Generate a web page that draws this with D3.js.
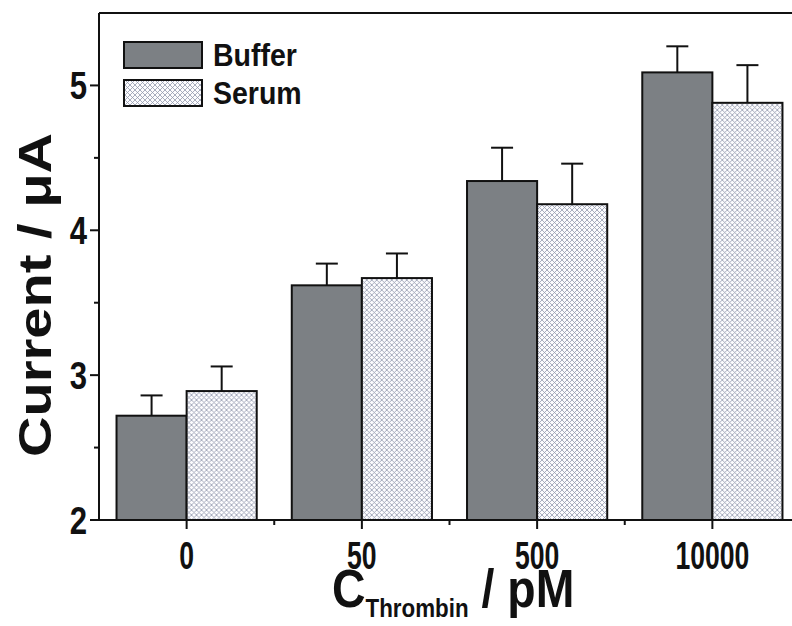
<!DOCTYPE html>
<html>
<head>
<meta charset="utf-8">
<script src="https://cdn.jsdelivr.net/npm/d3@7"></script>
<style>
  body { margin: 0; background: #fff; }
  svg { display: block; }
  text { font-family: "Liberation Sans", Arial, sans-serif; font-weight: bold; fill: #111; }
</style>
</head>
<body>
<div id="chart"></div>
<script>
// Data
const categories = ["0", "50", "500", "10000"];
const seriesNames = ["Buffer", "Serum"];
const bufferValues = [2.72, 3.62, 4.34, 5.09];
const bufferErrors = [0.14, 0.15, 0.23, 0.18];
const serumValues = [2.89, 3.67, 4.18, 4.88];
const serumErrors = [0.17, 0.17, 0.28, 0.26];
const yTicks = [2, 3, 4, 5];
const yMinorTicks = [2.5, 3.5, 4.5];

const width = 792;
const height = 626;
const margin = { top: 13, right: -8, bottom: 106, left: 99 };

const svg = d3.select("#chart")
  .append("svg")
  .attr("width", width)
  .attr("height", height)
  .attr("viewBox", [0, 0, width, height]);

// Cross-hatch pattern for serum bars
const defs = svg.append("defs");
const pat = defs.append("pattern")
  .attr("id", "hatch")
  .attr("patternUnits", "userSpaceOnUse")
  .attr("width", 5)
  .attr("height", 5);
pat.append("rect").attr("width", 5).attr("height", 5).attr("fill", "#fcfcfe");
pat.append("path")
  .attr("d", "M0,0L5,5M5,0L0,5")
  .attr("stroke", "#9399ad")
  .attr("stroke-width", 0.8);

const x = d3.scaleBand()
  .domain(categories)
  .range([margin.left, width - margin.right])
  .paddingInner(0.2)
  .paddingOuter(0.1);

const xSub = d3.scaleBand()
  .domain(seriesNames)
  .range([0, x.bandwidth()]);

const y = d3.scaleLinear()
  .domain([2, 5.5])
  .range([height - margin.bottom, margin.top]);

const fills = { Buffer: "#7c8084", Serum: "url(#hatch)" };

const rows = categories.map((c, i) => ({
  cat: c,
  bars: [
    { name: "Buffer", value: bufferValues[i], err: bufferErrors[i] },
    { name: "Serum", value: serumValues[i], err: serumErrors[i] },
  ],
}));

// Error bars (upper only), drawn first so bars cover their base
const errG = svg.append("g").attr("stroke", "#111").attr("stroke-width", 2);
rows.forEach((r) => {
  r.bars.forEach((b) => {
    const cx = x(r.cat) + xSub(b.name) + xSub.bandwidth() / 2;
    errG.append("line")
      .attr("x1", cx).attr("x2", cx)
      .attr("y1", y(b.value)).attr("y2", y(b.value + b.err));
    errG.append("line")
      .attr("x1", cx - 11).attr("x2", cx + 11)
      .attr("y1", y(b.value + b.err)).attr("y2", y(b.value + b.err));
  });
});

// Bars
svg.append("g")
  .selectAll("g")
  .data(rows)
  .join("g")
  .attr("transform", (d) => `translate(${x(d.cat)},0)`)
  .selectAll("rect")
  .data((d) => d.bars)
  .join("rect")
  .attr("x", (d) => xSub(d.name))
  .attr("y", (d) => y(d.value))
  .attr("width", xSub.bandwidth())
  .attr("height", (d) => y(2) - y(d.value))
  .attr("fill", (d) => fills[d.name])
  .attr("stroke", "#111")
  .attr("stroke-width", 2);

// Axes frame
const axisG = svg.append("g").attr("stroke", "#111").attr("stroke-width", 2).attr("fill", "none");
axisG.append("line").attr("x1", margin.left).attr("x2", margin.left).attr("y1", y(5.5)).attr("y2", y(2));
axisG.append("line").attr("x1", margin.left).attr("x2", width).attr("y1", y(2)).attr("y2", y(2));
axisG.append("line").attr("x1", margin.left).attr("x2", width).attr("y1", y(5.5)).attr("y2", y(5.5));

// Y ticks
yTicks.forEach((t) => {
  axisG.append("line").attr("x1", margin.left - 9).attr("x2", margin.left).attr("y1", y(t)).attr("y2", y(t));
});
yMinorTicks.forEach((t) => {
  axisG.append("line").attr("x1", margin.left - 5).attr("x2", margin.left).attr("y1", y(t)).attr("y2", y(t));
});

// X ticks: major at group centres, minor at group boundaries
categories.forEach((c) => {
  const cx = x(c) + x.bandwidth() / 2;
  axisG.append("line").attr("x1", cx).attr("x2", cx).attr("y1", y(2)).attr("y2", y(2) + 9);
});
categories.slice(1).forEach((c) => {
  const bx = x(c) - x.step() * x.paddingInner() / 2;
  axisG.append("line").attr("x1", bx).attr("x2", bx).attr("y1", y(2)).attr("y2", y(2) + 5);
});

// Condensed text helper
function condText(g, str, tx, ty, size, sx, anchor) {
  return g.append("text")
    .attr("transform", `translate(${tx},${ty}) scale(${sx},1)`)
    .attr("font-size", size)
    .attr("text-anchor", anchor || "middle")
    .text(str);
}

// Tick labels
yTicks.forEach((t) => {
  condText(svg, String(t), margin.left - 12, y(t) + 14, 38, 0.82, "end");
});
categories.forEach((c) => {
  condText(svg, c, x(c) + x.bandwidth() / 2, 569, 38, 0.7, "middle");
});

// Y axis title
svg.append("text")
  .attr("transform", "translate(51,295) rotate(-90) scale(1.22,1)")
  .attr("font-size", 46)
  .attr("text-anchor", "middle")
  .text("Current / \u03bcA");

// X axis title
const xt = svg.append("text")
  .attr("transform", "translate(332,607) scale(0.86,1)")
  .attr("font-size", 54);
xt.append("tspan").text("C");
xt.append("tspan").attr("font-size", 26).attr("dy", 10).text("Thrombin");
xt.append("tspan").attr("dy", -10).text(" / pM");

// Legend
const legend = svg.append("g");
seriesNames.forEach((s, i) => {
  const ly = 42 + i * 38;
  legend.append("rect")
    .attr("x", 124).attr("y", ly)
    .attr("width", 78).attr("height", 26)
    .attr("fill", fills[s])
    .attr("stroke", "#111")
    .attr("stroke-width", 2);
  condText(legend, s, 213, ly + 24, 31, 0.92, "start");
});
</script>
</body>
</html>
